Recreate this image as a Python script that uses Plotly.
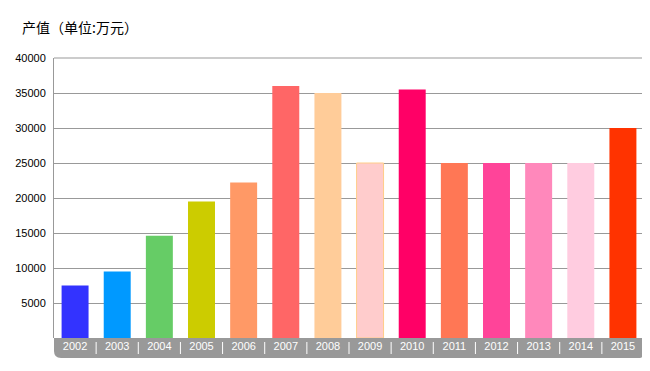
import plotly.graph_objects as go

years = ["2002", "2003", "2004", "2005", "2006", "2007", "2008", "2009",
         "2010", "2011", "2012", "2013", "2014", "2015"]
values = [7500, 9500, 14600, 19500, 22200, 36000, 35000, 25000,
          35500, 25000, 25000, 25000, 25000, 30000]
colors = ["#3333FF", "#0099FF", "#66CC66", "#CCCC00", "#FF9966", "#FF6666",
          "#FFCC99", "#FFCCCC", "#FF0066", "#FF7755", "#FF4499", "#FF88BB",
          "#FFCCE0", "#FF3300"]
line_colors = ["rgba(0,0,0,0)"] * 7 + ["#FFCC88"] + ["rgba(0,0,0,0)"] * 6
y_ticks = [5000, 10000, 15000, 20000, 25000, 30000, 35000, 40000]
y_labels = [str(v) for v in y_ticks]

# page body has an 8px default margin, so the figure is offset by 8px
OFF = 8
W, H = 650 - OFF, 371 - OFF
ml, mt = 54 - OFF, 58 - OFF
pw, ph = 590, 280
mr, mb = W - ml - pw, H - mt - ph

fig = go.Figure(go.Bar(
    x=years, y=values,
    marker=dict(color=colors, line=dict(color=line_colors, width=1)),
    width=0.64,
))

# gray band under the x axis with rounded bottom corners (paper coords)
band_h = 20 / ph
rx, ry = 7 / pw, 7 / ph
x0, x1 = 0, (pw + 1) / pw
y_top, y_bot = 0, -band_h
path = (f"M {x0},{y_top} L {x1},{y_top} L {x1},{y_bot + ry} "
        f"Q {x1},{y_bot} {x1 - rx},{y_bot} L {x0 + rx},{y_bot} "
        f"Q {x0},{y_bot} {x0},{y_bot + ry} Z")
shapes = [dict(type="path", xref="paper", yref="paper", path=path,
               fillcolor="#999999", line=dict(width=0), layer="below")]
# separators between category labels
for i in range(len(years) - 1):
    shapes.append(dict(type="line", xref="x", yref="paper",
                       x0=i + 0.5, x1=i + 0.5,
                       y0=-4 / ph, y1=-16 / ph,
                       line=dict(color="white", width=1)))
# right and top border
shapes.append(dict(type="line", xref="paper", yref="paper", x0=1, x1=1,
                   y0=0, y1=1, line=dict(color="#999999", width=1)))
shapes.append(dict(type="line", xref="paper", yref="paper", x0=0, x1=1,
                   y0=1, y1=1, line=dict(color="#999999", width=1)))

fig.update_layout(
    width=W, height=H,
    margin=dict(l=ml, r=mr, t=mt, b=mb),
    paper_bgcolor="white", plot_bgcolor="white",
    showlegend=False,
    shapes=shapes,
    font=dict(family="Liberation Sans, Arial, sans-serif", size=11, color="#000000"),
    xaxis=dict(
        type="category", automargin=False,
        showgrid=False, showline=False, zeroline=False,
        ticks="", tickfont=dict(color="white", size=11),
        range=[-0.5, len(years) - 0.5],
    ),
    yaxis=dict(
        range=[0, 40000], automargin=False,
        tickvals=y_ticks, ticktext=y_labels,
        showgrid=True, gridcolor="#999999", gridwidth=1,
        showline=True, linecolor="#999999", linewidth=1,
        zeroline=False, ticks="", ticklabelstandoff=5,
        tickfont=dict(size=11, color="#000000"),
    ),
    annotations=[dict(
        text="产值（单位:万元）", xref="paper", yref="paper",
        x=(20 - OFF - ml) / pw, y=1 + (58 - 27) / ph,
        xanchor="left", yanchor="middle", showarrow=False,
        font=dict(family="Noto Sans CJK SC", size=14, color="#000000"),
    )],
)

fig.write_html("out.html")
